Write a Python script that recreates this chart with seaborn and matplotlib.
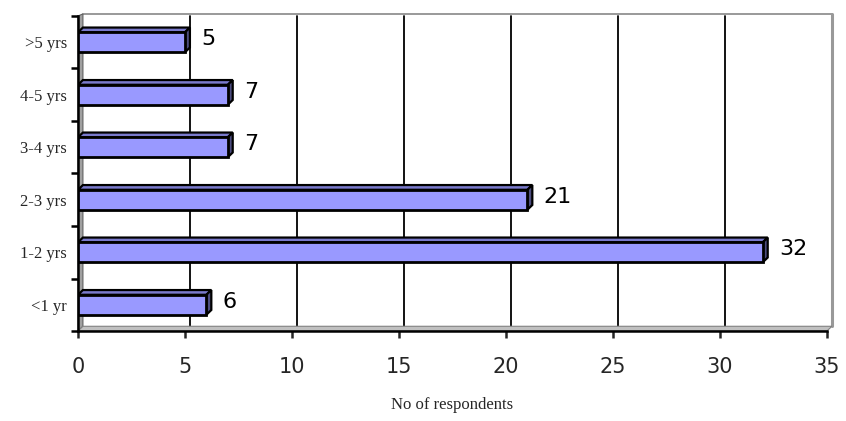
import matplotlib
matplotlib.use('Agg')
import matplotlib.pyplot as plt
import seaborn as sns
import pandas as pd
from matplotlib.patches import Polygon

# data
categories = ['>5 yrs', '4-5 yrs', '3-4 yrs', '2-3 yrs', '1-2 yrs', '<1 yr']
respondents = [5, 7, 7, 21, 32, 6]
x_ticks = [0, 5, 10, 15, 20, 25, 30, 35]

df = pd.DataFrame({'Experience': categories, 'Respondents': respondents})

sns.set_style('white')
fig = plt.figure(figsize=(8.46, 4.21), dpi=100)
ax = fig.add_axes([78 / 846, 90 / 421, 749 / 846, 315 / 421])

dx, dy = 0.23, 0.09

# back wall grid lines (shifted a little like the 3d excel wall)
for t in x_ticks[1:-1]:
    ax.plot([t + dx, t + dx], [5.5 - dy, -0.5], color='black', lw=1.3, zorder=0, clip_on=False)
ax.plot([35 + dx, 35 + dx], [5.5 - dy, -0.5 - 0.04], color='#999999', lw=2.2, zorder=0, clip_on=False)
ax.plot([dx, 35 + dx], [-0.5 - 0.04, -0.5 - 0.04], color='#999999', lw=1.4, zorder=0, clip_on=False)
# left wall and floor
ax.add_patch(Polygon([[0, 5.5], [dx, 5.5 - dy], [dx, -0.5 - 0.04], [0, -0.5]],
                     closed=True, facecolor='#a0a0a0', edgecolor='#606060', lw=0.8, zorder=0, clip_on=False))
ax.add_patch(Polygon([[0, 5.5], [35, 5.5], [35 + dx, 5.5 - dy], [dx, 5.5 - dy]],
                     closed=True, facecolor='#c0c0c0', edgecolor='#808080', lw=0.8, zorder=0, clip_on=False))

sns.barplot(data=df, x='Respondents', y='Experience', order=categories, orient='h',
            color='#9999ff', saturation=1, width=0.38, edgecolor='black', linewidth=2,
            ax=ax, zorder=3)

for bar in list(ax.patches):
    if isinstance(bar, Polygon):
        continue
    w = bar.get_width()
    y0 = bar.get_y()
    h = bar.get_height()
    top = [[0, y0], [w, y0], [w + dx, y0 - dy], [dx, y0 - dy]]
    side = [[w, y0], [w + dx, y0 - dy], [w + dx, y0 + h - dy], [w, y0 + h]]
    ax.add_patch(Polygon(top, closed=True, facecolor='#7a7acc', edgecolor='black', lw=1.6, zorder=2))
    ax.add_patch(Polygon(side, closed=True, facecolor='#4d4d80', edgecolor='black', lw=1.6, zorder=2))

for i, v in enumerate(respondents):
    ax.text(v + 0.75, i - 0.06, str(v), va='center', ha='left', fontsize=16,
            family='DejaVu Sans', color='black')

ax.set_xlim(0, 35)
ax.set_ylim(5.5, -0.5)
ax.set_xticks(x_ticks)
ax.set_xticklabels([str(t) for t in x_ticks], fontsize=15, family='DejaVu Sans')
ax.set_yticks(range(len(categories)))
ax.set_yticklabels(categories, fontsize=12, family='Liberation Serif')
ax.set_yticks([i - 0.5 for i in range(len(categories) + 1)], minor=True)
ax.tick_params(axis='y', which='major', length=0, pad=8)
ax.tick_params(axis='y', which='minor', length=5, width=1.8, color='black', left=True)
ax.tick_params(axis='x', length=5, width=1.8, direction='out', bottom=True, pad=14)
ax.set_xlabel('No of respondents', fontsize=12, family='Liberation Serif', labelpad=14)
ax.set_ylabel('')

for s in ['top', 'right']:
    ax.spines[s].set_visible(False)
ax.spines['left'].set_linewidth(1.8)
ax.spines['bottom'].set_linewidth(1.8)
ax.spines['left'].set_color('black')
ax.spines['bottom'].set_color('black')

fig.savefig('out.png', dpi=100)
